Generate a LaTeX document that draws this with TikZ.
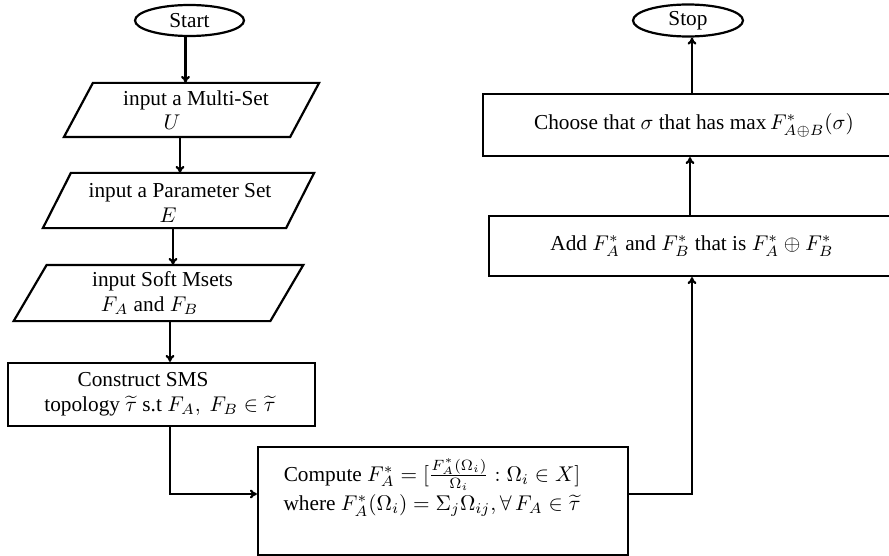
\RequirePackage{fix-cm}
\documentclass[tikz,border=0pt]{standalone}
\usepackage{fontspec}
\setmainfont{Liberation Serif}
\usepackage{amsmath,amssymb}
\usetikzlibrary{arrows.meta,shapes.geometric,calc}
% a text line centred, then moved right by half of #1
\newcommand{\movedline}[2]{\makebox[0pt]{\hspace*{#1}#2}}
\begin{document}
\begin{tikzpicture}[x=1pt,y=-1pt,
  line width=1.1pt,
  font=\fontsize{10.65}{12.3}\selectfont,
  term/.style={ellipse,draw,minimum width=54.5pt,minimum height=15.5pt,inner sep=0pt},
  procbox/.style={draw,rectangle,inner sep=0pt,align=center},
  iobody/.style={rectangle,inner sep=0pt,align=center},
  arr/.style={-{To[length=3.5pt,width=4.5pt]}},
]
\useasboundingbox (0,0) rectangle (444.5,278);
\clip (0,0) rectangle (444.5,278);

% terminals
\node[term] (start) at (94.75,10.25) {Start};
\node[term,minimum width=55pt,minimum height=16pt] (stop) at (344,10.25) {Stop};

% input parallelograms (body nodes + outline)
\node[iobody,minimum width=112pt,minimum height=26pt] (p1) at (95.75,55)
  {\movedline{4.5pt}{input a Multi-Set}\\\movedline{-19.5pt}{$U$}};
\draw ([xshift=-7.25pt]p1.south west) -- ([xshift=7.25pt]p1.north west)
  -- ([xshift=7.25pt]p1.north east) -- ([xshift=-7.25pt]p1.south east) -- cycle;

\node[iobody,minimum width=120.5pt,minimum height=26.5pt] (p2) at (89.25,101.5)
  {\movedline{1.5pt}{input a Parameter Set}\\\movedline{-10.5pt}{$E$}};
\draw ([xshift=-7pt,yshift=1.25pt]p2.south west) -- ([xshift=7pt,yshift=1.25pt]p2.north west)
  -- ([xshift=7pt,yshift=1.25pt]p2.north east) -- ([xshift=-7pt,yshift=1.25pt]p2.south east) -- cycle;

\node[iobody,minimum width=127.25pt,minimum height=27pt] (p3) at (79.25,146.5)
  {\movedline{4pt}{input Soft Msets}\\\movedline{-9pt}{$F_A$ and $F_B$}};
\draw ([xshift=-8.25pt]p3.south west) -- ([xshift=8.25pt]p3.north west)
  -- ([xshift=8.25pt]p3.north east) -- ([xshift=-8.25pt]p3.south east) -- cycle;

% process boxes
\node[procbox,minimum width=153.5pt,minimum height=31.5pt] (sms) at (80.75,197.25)
  {\movedline{-18.5pt}{Construct SMS}\\\movedline{-1.5pt}{topology $\widetilde{\tau}$ s.t $F_A,\ F_B\in\widetilde{\tau}$}};

\node[procbox,minimum width=185pt,minimum height=54pt] (comp) at (221.5,250.5)
  {\movedline{-11pt}{Compute $F_A^*=[\frac{F_A^*(\Omega_i)}{\Omega_i}:\Omega_i\in X]$}\\[1pt]%
\movedline{-11pt}{where $F_A^*(\Omega_i)=\Sigma_j\Omega_{ij},\forall\, F_A\in\widetilde{\tau}$}\\[4pt]\mbox{}};

\node[procbox,minimum width=203pt,minimum height=30pt] (add) at (346,123)
  {Add $F_A^*$ and $F_B^*$ that is $F_A^*\oplus F_B^*$};

\node[procbox,minimum width=211pt,minimum height=31pt] (choose) at (347,62.5)
  {Choose that $\sigma$ that has $\max F^*_{A\oplus B}(\sigma)$};

% connectors
\draw[arr] ([xshift=-2pt]start.south) -- ([xshift=-2pt]start.south |- p1.north);
\draw[arr] ([xshift=-5.75pt]p1.south) -- ([xshift=-5.75pt,yshift=1.25pt]p1.south |- p2.north);
\draw[arr] ([xshift=-2.75pt,yshift=1.25pt]p2.south) -- ([xshift=-2.75pt]p2.south |- p3.north);
\draw[arr] ([xshift=5.75pt]p3.south) -- ([xshift=5.75pt]p3.south |- sms.north);
\draw[arr] ([xshift=4.25pt]sms.south) |- ([yshift=3.5pt]comp.west);
\draw[arr] ([yshift=3.5pt]comp.east) -| (add.south);
\draw[arr] ([xshift=-1pt]add.north) -- ([xshift=-1pt]add.north |- choose.south);
\draw[arr] ([xshift=-1pt]choose.north) -- ([xshift=-1pt]choose.north |- stop.south);
\end{tikzpicture}
\end{document}
